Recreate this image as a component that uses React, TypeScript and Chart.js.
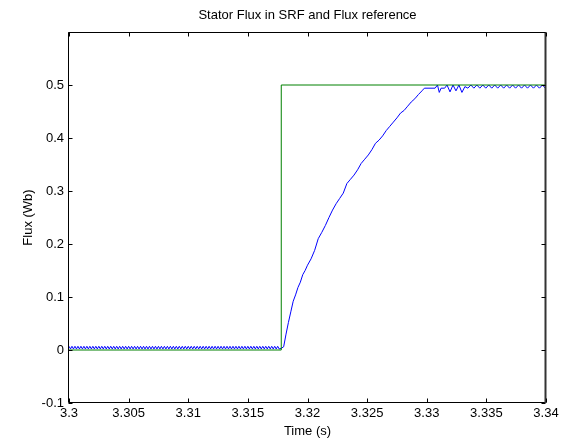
import React, { useEffect, useRef } from "react";
import { Chart, registerables } from "chart.js";

Chart.register(...registerables);

const titleText = "Stator Flux in SRF and Flux reference";
const xTitle = "Time (s)";
const yTitle = "Flux (Wb)";

const xTickValues = [3.3, 3.305, 3.31, 3.315, 3.32, 3.325, 3.33, 3.335, 3.34];
const yTickValues = [-0.1, 0, 0.1, 0.2, 0.3, 0.4, 0.5, 0.6];
const yTickLabelsShown = ["-0.1", "0", "0.1", "0.2", "0.3", "0.4", "0.5", ""];

// reference flux (green step)
const refTime = [3.3, 3.3178, 3.3178, 3.34];
const refValue = [0, 0, 0.5, 0.5];

// stator flux before the step (sampled every preStepDt seconds)
const preStepStart = 3.3;
const preStepDt = 0.000125;
const preStepValues = [
  0.007, 0.002, 0.007, 0.002, 0.007, 0.002, 0.007, 0.002, 0.007, 0.002,
  0.007, 0.002, 0.007, 0.002, 0.007, 0.002, 0.007, 0.002, 0.007, 0.002,
  0.007, 0.002, 0.007, 0.002, 0.007, 0.002, 0.007, 0.002, 0.007, 0.002,
  0.007, 0.002, 0.007, 0.002, 0.007, 0.002, 0.007, 0.002, 0.007, 0.002,
  0.007, 0.002, 0.007, 0.002, 0.007, 0.002, 0.007, 0.002, 0.007, 0.002,
  0.007, 0.002, 0.007, 0.002, 0.007, 0.002, 0.007, 0.002, 0.007, 0.002,
  0.007, 0.002, 0.007, 0.002, 0.007, 0.002, 0.007, 0.002, 0.007, 0.002,
  0.007, 0.002, 0.007, 0.002, 0.007, 0.002, 0.007, 0.002, 0.007, 0.002,
  0.007, 0.002, 0.007, 0.002, 0.007, 0.002, 0.007, 0.002, 0.007, 0.002,
  0.007, 0.002, 0.007, 0.002, 0.007, 0.002, 0.007, 0.002, 0.007, 0.002,
  0.007, 0.002, 0.007, 0.002, 0.007, 0.002, 0.007, 0.002, 0.007, 0.002,
  0.007, 0.002, 0.007, 0.002, 0.007, 0.002, 0.007, 0.002, 0.007, 0.002,
  0.007, 0.002, 0.007, 0.002, 0.007, 0.002, 0.007, 0.002, 0.007, 0.002,
  0.007, 0.002, 0.007, 0.002, 0.007, 0.002, 0.007, 0.002, 0.007, 0.002,
  0.007, 0.002,
];

// stator flux rise (slightly stair-stepped)
const riseTime = [
  3.31778, 3.318, 3.3182, 3.3184, 3.3186, 3.3188, 3.319, 3.3192, 3.3194, 3.3196,
  3.3198, 3.32, 3.3203, 3.3206, 3.3209, 3.3212, 3.3215, 3.3218, 3.3221, 3.3224,
  3.3227, 3.323, 3.3233, 3.3236, 3.3239, 3.3242, 3.3245, 3.3248, 3.3251, 3.3254,
  3.3257, 3.326, 3.3263, 3.3266, 3.3269, 3.3272, 3.3275, 3.3278, 3.3281, 3.3284,
  3.3287, 3.329, 3.3293, 3.3296, 3.3298, 3.3307, 3.3309, 3.33105, 3.3312, 3.3315,
];
const riseValue = [
  0.003, 0.006, 0.03, 0.052, 0.072, 0.092, 0.104, 0.118, 0.128, 0.142,
  0.15, 0.16, 0.172, 0.188, 0.21, 0.222, 0.235, 0.25, 0.264, 0.276,
  0.286, 0.296, 0.314, 0.322, 0.33, 0.34, 0.352, 0.36, 0.368, 0.378,
  0.39, 0.396, 0.404, 0.414, 0.422, 0.43, 0.438, 0.447, 0.452, 0.46,
  0.468, 0.474, 0.482, 0.489, 0.494, 0.494, 0.5, 0.486, 0.494, 0.494,
];

// stator flux after settling (sampled every settleDt seconds)
const settleStart = 3.3317;
const settleDt = 0.00025;
const settleValues = [
  0.5, 0.487, 0.5, 0.489, 0.5, 0.486, 0.497, 0.494, 0.5, 0.494,
  0.5, 0.494, 0.5, 0.494, 0.5, 0.494, 0.5, 0.494, 0.5, 0.494,
  0.5, 0.494, 0.5, 0.494, 0.5, 0.494, 0.5, 0.494, 0.5, 0.494,
  0.5, 0.494, 0.5, 0.494,
];

const FONT = "'Liberation Sans', Arial, sans-serif";

export default function App() {
  const ref = useRef<HTMLCanvasElement | null>(null);

  useEffect(() => {
    if (!ref.current) return;

    const blue: { x: number; y: number }[] = [];
    preStepValues.forEach((v, i) => blue.push({ x: preStepStart + i * preStepDt, y: v }));
    riseTime.forEach((t, i) => blue.push({ x: t, y: riseValue[i] }));
    settleValues.forEach((v, i) => blue.push({ x: settleStart + i * settleDt, y: v }));

    const green = refTime.map((t, i) => ({ x: t, y: refValue[i] }));

    const framePlugin = {
      id: "frame",
      afterDatasetsDraw(chart: any) {
        const { ctx, chartArea: a, scales } = chart;
        ctx.save();
        ctx.strokeStyle = "#000";
        ctx.lineWidth = 1;
        const L = Math.round(a.left) - 0.5;
        const R = Math.round(a.right) - 0.5;
        const T = Math.round(a.top) + 0.5;
        const B = Math.round(a.bottom) - 0.5;
        ctx.beginPath();
        ctx.moveTo(L, T);
        ctx.lineTo(R, T);
        ctx.lineTo(R, B);
        ctx.lineTo(L, B);
        ctx.closePath();
        ctx.stroke();
        ctx.lineWidth = 2;
        ctx.strokeStyle = "#333";
        ctx.beginPath();
        ctx.moveTo(R, T);
        ctx.lineTo(R, B + 0.5);
        ctx.stroke();
        ctx.lineWidth = 1;
        ctx.strokeStyle = "#000";
        const tl = 4;
        ctx.beginPath();
        xTickValues.forEach((v) => {
          const px = Math.round(scales.x.getPixelForValue(v)) + 0.5;
          ctx.moveTo(px, B);
          ctx.lineTo(px, B - tl);
          ctx.moveTo(px, T);
          ctx.lineTo(px, T + tl);
        });
        yTickValues.forEach((v) => {
          const py = Math.round(scales.y.getPixelForValue(v)) + 0.5;
          ctx.moveTo(L, py);
          ctx.lineTo(L + tl, py);
          ctx.moveTo(R, py);
          ctx.lineTo(R - tl, py);
        });
        ctx.stroke();
        ctx.fillStyle = "#000";
        ctx.font = `13px ${FONT}`;
        ctx.textAlign = "center";
        ctx.textBaseline = "middle";
        ctx.fillText(titleText, (a.left + a.right) / 2, 15);
        ctx.restore();
      },
    };

    const chart = new Chart(ref.current, {
      type: "line",
      data: {
        datasets: [
          {
            label: "Flux reference",
            data: green,
            borderColor: "#008000",
            borderWidth: 1,
            pointRadius: 0,
            tension: 0,
            fill: false,
          },
          {
            label: "Stator flux",
            data: blue,
            borderColor: "#0000ff",
            borderWidth: 1,
            pointRadius: 0,
            tension: 0,
            fill: false,
          },
        ],
      },
      options: {
        animation: false,
        responsive: false,
        maintainAspectRatio: false,
        layout: { padding: { left: 0, top: 32, right: 24, bottom: 0 } },
        plugins: {
          legend: { display: false },
          title: { display: false },
          tooltip: { enabled: false },
        },
        scales: {
          x: {
            type: "linear",
            min: 3.3,
            max: 3.34,
            afterBuildTicks: (scale: any) => {
              scale.ticks = xTickValues.map((v) => ({ value: v }));
            },
            afterFit: (scale: any) => {
              scale.height = 41;
            },
            grid: { display: false, drawTicks: false },
            border: { display: false },
            ticks: {
              padding: 3,
              maxRotation: 0,
              autoSkip: false,
              color: "#000",
              font: { family: FONT, size: 13 },
              callback: (v: any) => String(parseFloat(Number(v).toFixed(3))),
            },
            title: {
              display: true,
              text: xTitle,
              color: "#000",
              font: { family: FONT, size: 13 },
              padding: { top: 0, bottom: 5 },
            },
          },
          y: {
            type: "linear",
            min: -0.1,
            max: 0.6,
            afterBuildTicks: (scale: any) => {
              scale.ticks = yTickValues.map((v) => ({ value: v }));
            },
            afterFit: (scale: any) => {
              scale.width = 69;
            },
            grid: { display: false, drawTicks: false },
            border: { display: false },
            ticks: {
              padding: 5,
              autoSkip: false,
              color: "#000",
              font: { family: FONT, size: 13 },
              callback: (v: any) => {
                const i = yTickValues.findIndex((t) => Math.abs(t - Number(v)) < 1e-9);
                return i >= 0 ? yTickLabelsShown[i] : "";
              },
            },
            title: {
              display: true,
              text: yTitle,
              color: "#000",
              font: { family: FONT, size: 13 },
              padding: { top: 21, bottom: 0 },
            },
          },
        },
      },
      plugins: [framePlugin],
    });

    return () => chart.destroy();
  }, []);

  return (
    <div style={{ position: "absolute", left: 0, top: 0, width: 570, height: 444, background: "#fff" }}>
      <canvas ref={ref} width={570} height={444} style={{ width: 570, height: 444, display: "block" }} />
    </div>
  );
}
